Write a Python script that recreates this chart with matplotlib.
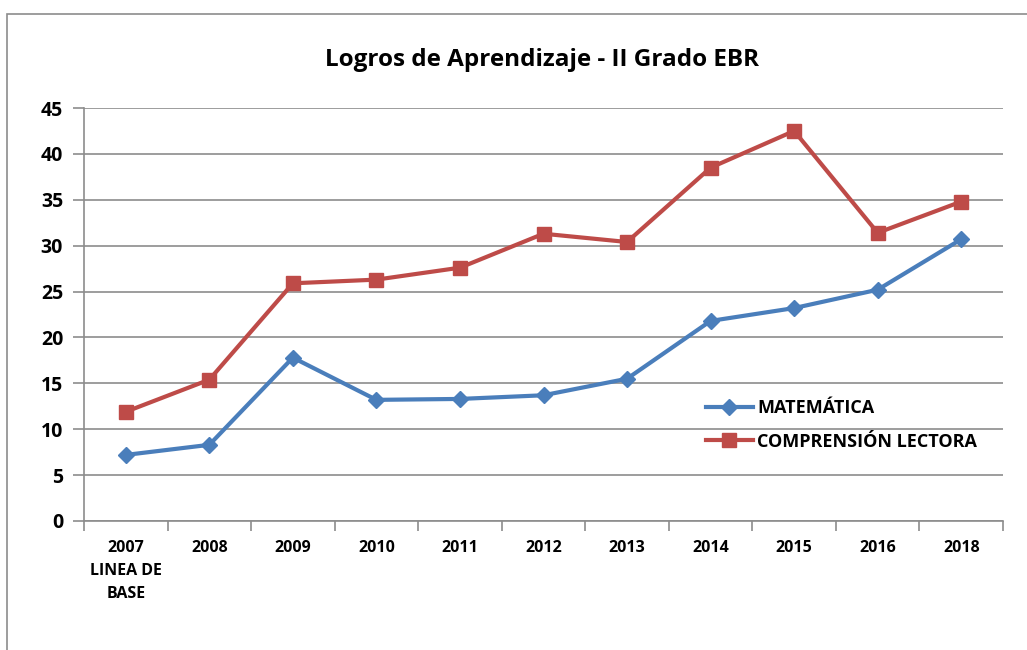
import matplotlib
matplotlib.use("Agg")
import matplotlib.pyplot as plt
from matplotlib.patches import Rectangle
import numpy as np

categories = ["2007\nLINEA DE\nBASE", "2008", "2009", "2010", "2011", "2012",
              "2013", "2014", "2015", "2016", "2018"]
matematica = [7.2, 8.3, 17.8, 13.2, 13.3, 13.7, 15.5, 21.8, 23.2, 25.2, 30.7]
comprension = [11.9, 15.4, 25.9, 26.3, 27.6, 31.3, 30.4, 38.5, 42.5, 31.4, 34.8]
y_ticks = [0, 5, 10, 15, 20, 25, 30, 35, 40, 45]

plt.rcParams['font.family'] = ['Open Sans', 'DejaVu Sans']

fig = plt.figure(figsize=(10.27, 6.5), dpi=100)
fig.patches.append(Rectangle((7/1027, -0.1), 1.2, 1 - 14/650 + 0.1,
                             transform=fig.transFigure, fill=False,
                             edgecolor='#8c8c8c', linewidth=1.2))
ax = fig.add_axes([84/1027, 1 - 521/650, (1003 - 84)/1027, (521 - 108)/650])

x = np.arange(len(categories))
blue = '#4A7EBB'
red = '#BE4B48'
ax.plot(x, matematica, color=blue, linewidth=3, marker='D', markersize=8.5,
        label='MATEMÁTICA', zorder=3)
ax.plot(x, comprension, color=red, linewidth=3, marker='s', markersize=10.5,
        label='COMPRENSIÓN LECTORA', zorder=3)

ax.set_xlim(-0.5, len(categories) - 0.5)
ax.set_ylim(0, 45)
ax.set_yticks(y_ticks)
ax.set_yticklabels([str(v) for v in y_ticks], fontsize=14, fontweight='bold')
ax.set_xticks(x)
ax.set_xticklabels(categories, fontsize=11.5, fontweight='bold', linespacing=1.55)
ax.set_xticks(np.arange(-0.5, len(categories), 1), minor=True)
ax.tick_params(axis='x', which='major', length=0, pad=14)
ax.tick_params(axis='x', which='minor', length=7, color='#8c8c8c', width=1.2)
ax.tick_params(axis='y', length=8, color='#8c8c8c', width=1.2, pad=7)

ax.grid(axis='y', color='#8c8c8c', linewidth=1.2, zorder=0)
ax.set_axisbelow(True)
for s in ['top', 'right']:
    ax.spines[s].set_visible(False)
for s in ['left', 'bottom']:
    ax.spines[s].set_color('#8c8c8c')
    ax.spines[s].set_linewidth(1.2)

fig.text(542/1027, 1 - 60/650, 'Logros de Aprendizaje - II Grado EBR',
         ha='center', va='center', fontsize=17.5, fontweight='bold')

leg = ax.legend(loc='center left', bbox_to_anchor=(0.659, 0.2325), frameon=False,
                prop={'size': 13, 'weight': 'bold'}, handlelength=2.6,
                handletextpad=0.25, labelspacing=0.85)

fig.savefig('out.png', dpi=100)
